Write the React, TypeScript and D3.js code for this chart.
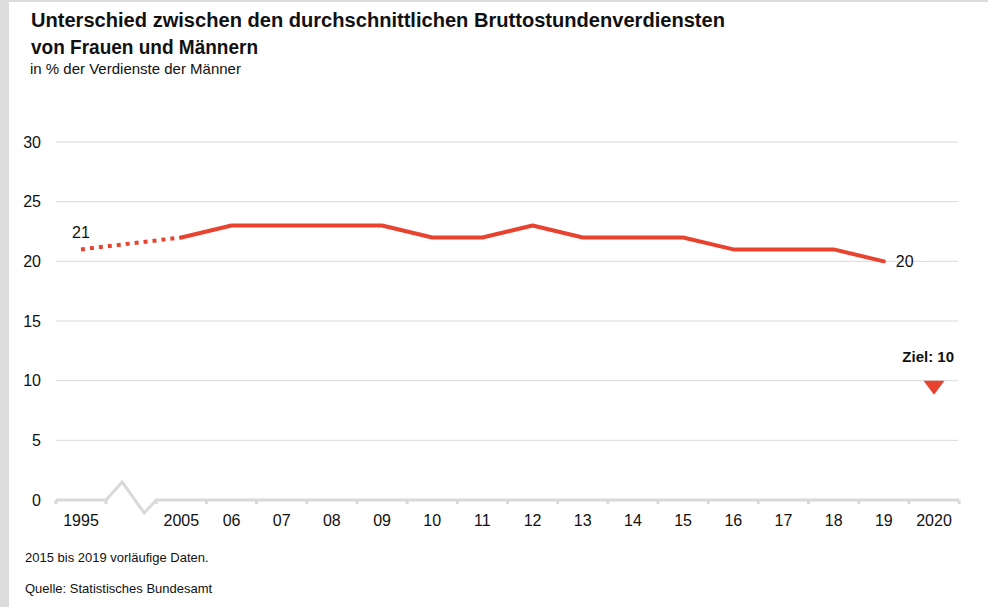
import * as d3 from "d3";

const WIDTH = 988;
const HEIGHT = 607;

const CATEGORIES = ["1995", "gap", "2005", "2006", "2007", "2008", "2009", "2010", "2011", "2012", "2013", "2014", "2015", "2016", "2017", "2018", "2019", "2020"];
const TICK_LABELS = ["1995", "", "2005", "06", "07", "08", "09", "10", "11", "12", "13", "14", "15", "16", "17", "18", "19", "2020"];

// 1995 -> 2005 drawn dotted (no yearly data in between)
const DOTTED_YEARS = ["1995", "2005"];
const DOTTED_VALUES = [21, 22];

const SOLID_YEARS = ["2005", "2006", "2007", "2008", "2009", "2010", "2011", "2012", "2013", "2014", "2015", "2016", "2017", "2018", "2019"];
const SOLID_VALUES = [22, 23, 23, 23, 23, 22, 22, 23, 22, 22, 22, 21, 21, 21, 20];

const TARGET_YEAR = "2020";
const TARGET_VALUE = 10;

const Y_TICKS = [0, 5, 10, 15, 20, 25, 30];

const RED = "#e8432f";
const GRID = "#d9d9d9";
const FONT = "'Liberation Sans', Arial, Helvetica, sans-serif";

export default function App() {
  const x = d3.scalePoint<string>().domain(CATEGORIES).range([81, 934]);
  const y = d3.scaleLinear().domain([0, 30]).range([500, 142]);
  const step = x.step();

  const line = d3
    .line<[string, number]>()
    .x((d) => x(d[0]) ?? 0)
    .y((d) => y(d[1]));

  const dottedPath = line(DOTTED_YEARS.map((yr, i) => [yr, DOTTED_VALUES[i]])) ?? "";
  const solidPath = line(SOLID_YEARS.map((yr, i) => [yr, SOLID_VALUES[i]])) ?? "";

  const axisLeft = (x(CATEGORIES[0]) ?? 0) - step / 2;
  const axisRight = (x(CATEGORIES[CATEGORIES.length - 1]) ?? 0) + step / 2;
  const breakStart = (x("1995") ?? 0) + step / 2;
  const breakEnd = (x("2005") ?? 0) - step / 2;
  const breakW = breakEnd - breakStart;
  const y0 = y(0);
  const boundaries = CATEGORIES.map((c) => (x(c) ?? 0) - step / 2).concat([axisRight]);

  const zigzag = [
    [axisLeft, y0],
    [breakStart, y0],
    [breakStart + breakW * 0.32, y0 - 18],
    [breakStart + breakW * 0.76, y0 + 13],
    [breakEnd, y0],
    [axisRight, y0],
  ] as [number, number][];

  const tx = x(TARGET_YEAR) ?? 0;
  const ty = y(TARGET_VALUE);
  const tri = `M${tx - 10.5},${ty} L${tx + 10.5},${ty} L${tx},${ty + 14} Z`;

  const lastYear = SOLID_YEARS[SOLID_YEARS.length - 1];
  const lastVal = SOLID_VALUES[SOLID_VALUES.length - 1];

  return (
    <div style={{ position: "absolute", left: 0, top: 0 }}>
      <svg width={WIDTH} height={HEIGHT} style={{ display: "block", fontFamily: FONT }}>
        <rect x={0} y={0} width={WIDTH} height={HEIGHT} fill="#fff" />
        <rect x={0} y={0} width={9} height={HEIGHT} fill="#dcdcdc" />
        <rect x={0} y={0} width={WIDTH} height={2} fill="#dcdcdc" />

        <text x={31} y={27} fontSize={20} fontWeight="bold" fill="#111" textLength={694} lengthAdjust="spacingAndGlyphs">
          Unterschied zwischen den durchschnittlichen Bruttostundenverdiensten
        </text>
        <text x={31} y={54} fontSize={20} fontWeight="bold" fill="#111" textLength={227} lengthAdjust="spacingAndGlyphs">
          von Frauen und Männern
        </text>
        <text x={30} y={74} fontSize={15} fill="#111">
          in % der Verdienste der Männer
        </text>

        {Y_TICKS.filter((t) => t > 0).map((t) => (
          <line key={t} x1={axisLeft} x2={axisRight - 1} y1={y(t)} y2={y(t)} stroke={GRID} strokeWidth={1} />
        ))}
        {Y_TICKS.map((t) => (
          <text key={t} x={41} y={y(t)} dy="0.36em" textAnchor="end" fontSize={16} fill="#111">
            {t}
          </text>
        ))}

        <path
          d={d3.line()(zigzag) ?? ""}
          fill="none"
          stroke={GRID}
          strokeWidth={3}
          strokeLinejoin="miter"
        />
        {boundaries
          .filter((b) => b <= breakStart + 0.5 || b >= breakEnd - 0.5)
          .map((b, i) => (
            <line key={i} x1={b} x2={b} y1={y0} y2={y0 + 4} stroke={GRID} strokeWidth={3} />
          ))}

        {CATEGORIES.map((c, i) => (
          <text key={c} x={x(c)} y={526} textAnchor="middle" fontSize={16} fill="#111">
            {TICK_LABELS[i]}
          </text>
        ))}

        <path d={dottedPath} fill="none" stroke={RED} strokeWidth={4} strokeDasharray="4 5" />
        <path d={solidPath} fill="none" stroke={RED} strokeWidth={4} strokeLinejoin="round" strokeLinecap="round" />

        <text x={x("1995")} y={y(DOTTED_VALUES[0]) - 11} textAnchor="middle" fontSize={16} fill="#111">
          {DOTTED_VALUES[0]}
        </text>
        <text x={(x(lastYear) ?? 0) + 12} y={y(lastVal)} dy="0.36em" fontSize={16} fill="#111">
          {lastVal}
        </text>

        <path d={tri} fill={RED} />
        <text x={954} y={ty - 19} textAnchor="end" fontSize={15} fontWeight="bold" fill="#111">
          Ziel: {TARGET_VALUE}
        </text>

        <text x={25} y={562} fontSize={13} fill="#111">
          2015 bis 2019 vorläufige Daten.
        </text>
        <text x={25} y={593} fontSize={13} fill="#111">
          Quelle: Statistisches Bundesamt
        </text>
      </svg>
    </div>
  );
}
